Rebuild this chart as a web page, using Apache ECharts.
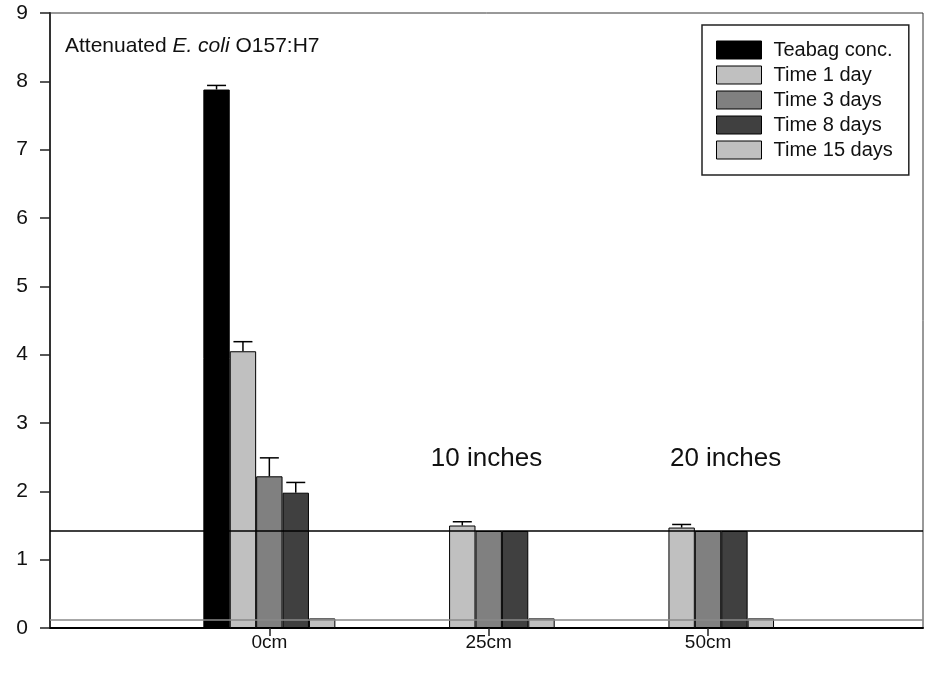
<!DOCTYPE html>
<html>
<head>
<meta charset="utf-8">
<script src="https://cdn.jsdelivr.net/npm/echarts@6/dist/echarts.min.js"></script>
<style>
  html, body { margin: 0; padding: 0; background: #fff; }
  #chart { width: 926px; height: 673px; }
</style>
</head>
<body>
<div id="chart"></div>
<script>
// ---- data ----
const categories = ['0cm', '25cm', '50cm'];
const seriesNames = ['Teabag conc.', 'Time 1 day', 'Time 3 days', 'Time 8 days', 'Time 15 days'];
const teabag = [7.88, null, null];
const day1 = [4.05, 1.50, 1.47];
const day3 = [2.22, 1.42, 1.42];
const day8 = [1.98, 1.42, 1.42];
const day15 = [0.14, 0.14, 0.14];
const teabagErr = [0.06, 0, 0];
const day1Err = [0.14, 0.055, 0.045];
const day3Err = [0.27, 0, 0];
const day8Err = [0.15, 0, 0];
const day15Err = [0, 0, 0];
const detectionLimit = 1.42;
const baselineLimit = 0.12;
const yTicks = [0, 1, 2, 3, 4, 5, 6, 7, 8, 9];
// annotation anchors in axis units (x: category position, y: value)
const annotations = [
  { x: 1.99, y: 2.47, text: '10 inches' },
  { x: 3.08, y: 2.47, text: '20 inches' }
];

// ---- styles ----
const FONT = 'Liberation Sans, Arial, sans-serif';
const BAR_W = 26.4;
const colors = ['#000000', '#c0c0c0', '#808080', '#404040', '#c0c0c0'];
const allValues = [teabag, day1, day3, day8, day15];
const allErr = [teabagErr, day1Err, day3Err, day8Err, day15Err];

const barSeries = allValues.map((vals, si) => ({
  name: seriesNames[si],
  type: 'bar',
  barWidth: BAR_W,
  barGap: '0%',
  itemStyle: { color: colors[si], borderColor: '#000', borderWidth: 1 },
  data: vals.map((v, ci) => v == null ? null : [ci + 1, v]).filter(d => d !== null),
  z: 2
}));

barSeries[0].markLine = {
  silent: true,
  symbol: 'none',
  label: { show: false },
  z: 10,
  data: [
    { yAxis: detectionLimit, lineStyle: { color: '#000', width: 1.5, type: 'solid' } },
    { yAxis: baselineLimit, lineStyle: { color: '#8a8a8a', width: 1.5, type: 'solid' } }
  ]
};

const errData = [];
allValues.forEach((vals, si) => {
  vals.forEach((v, ci) => {
    if (v != null && allErr[si][ci] > 0) errData.push([ci + 1, v, allErr[si][ci], si]);
  });
});

const errSeries = {
  type: 'custom',
  name: 'err',
  z: 5,
  silent: true,
  data: errData,
  encode: { x: 0, y: 1 },
  renderItem: function (params, api) {
    const x = api.value(0), v = api.value(1), e = api.value(2), k = api.value(3);
    const p0 = api.coord([x, v]);
    const p1 = api.coord([x, v + e]);
    const cx = p0[0] + (k - 2) * BAR_W;
    return {
      type: 'group',
      children: [
        { type: 'line', shape: { x1: cx, y1: p0[1], x2: cx, y2: p1[1] }, style: { stroke: '#000', lineWidth: 1.5 } },
        { type: 'line', shape: { x1: cx - 9.5, y1: p1[1], x2: cx + 9.5, y2: p1[1] }, style: { stroke: '#000', lineWidth: 1.5 } }
      ]
    };
  }
};

const chart = echarts.init(document.getElementById('chart'), null, { renderer: 'canvas' });

const option = {
  animation: false,
  backgroundColor: '#fff',
  textStyle: { fontFamily: FONT },
  grid: { left: 50, right: 3, top: 13, bottom: 45, show: true, borderColor: '#333', borderWidth: 1 },
  legend: {
    data: seriesNames,
    orient: 'vertical',
    left: 702,
    top: 25,
    padding: [15, 16, 15, 14],
    itemGap: 5,
    itemWidth: 45,
    itemHeight: 18,
    icon: 'rect',
    borderColor: '#222',
    borderWidth: 1.5,
    backgroundColor: '#fff',
    itemStyle: { borderColor: '#000', borderWidth: 1 },
    textStyle: { fontSize: 20, color: '#111', fontFamily: FONT, padding: [0, 0, 0, 7] },
    selectedMode: false
  },
  xAxis: {
    type: 'value',
    min: 0,
    max: 3.98,
    splitLine: { show: false },
    axisLine: { show: true, lineStyle: { color: '#000', width: 2 } },
    axisTick: { show: true, customValues: categories.map((c, i) => i + 1), length: 8, lineStyle: { color: '#222', width: 1.5 } },
    axisLabel: {
      customValues: categories.map((c, i) => i + 1),
      formatter: v => categories[Math.round(v) - 1] || '',
      fontSize: 19, color: '#111', margin: 5, fontFamily: FONT
    }
  },
  yAxis: {
    type: 'value',
    min: 0,
    max: 9,
    interval: 1,
    splitLine: { show: false },
    axisLine: { show: true, lineStyle: { color: '#333', width: 2 } },
    axisTick: { show: true, inside: false, length: 10, lineStyle: { color: '#222', width: 1.5 } },
    axisLabel: {
      customValues: yTicks,
      fontSize: 21, color: '#111', margin: 22, fontFamily: FONT
    }
  },
  series: barSeries.concat([errSeries]),
  graphic: [
    {
      type: 'text',
      left: 65,
      top: 36,
      z: 20,
      style: {
        text: 'Attenuated {i|E. coli} O157:H7',
        fontSize: 21,
        fontFamily: FONT,
        fill: '#111',
        rich: { i: { fontStyle: 'italic', fontSize: 21, fontFamily: FONT, fill: '#111' } }
      }
    }
  ]
};

chart.setOption(option);

// annotation texts placed through the axis scales
const ann = annotations.map(a => {
  const p = chart.convertToPixel({ gridIndex: 0 }, [a.x, a.y]);
  return {
    type: 'text',
    x: p[0],
    y: p[1],
    z: 20,
    style: { text: a.text, fontSize: 26, fontFamily: FONT, fill: '#111', align: 'center', verticalAlign: 'middle' }
  };
});
chart.setOption({ graphic: option.graphic.concat(ann) });
</script>
</body>
</html>
